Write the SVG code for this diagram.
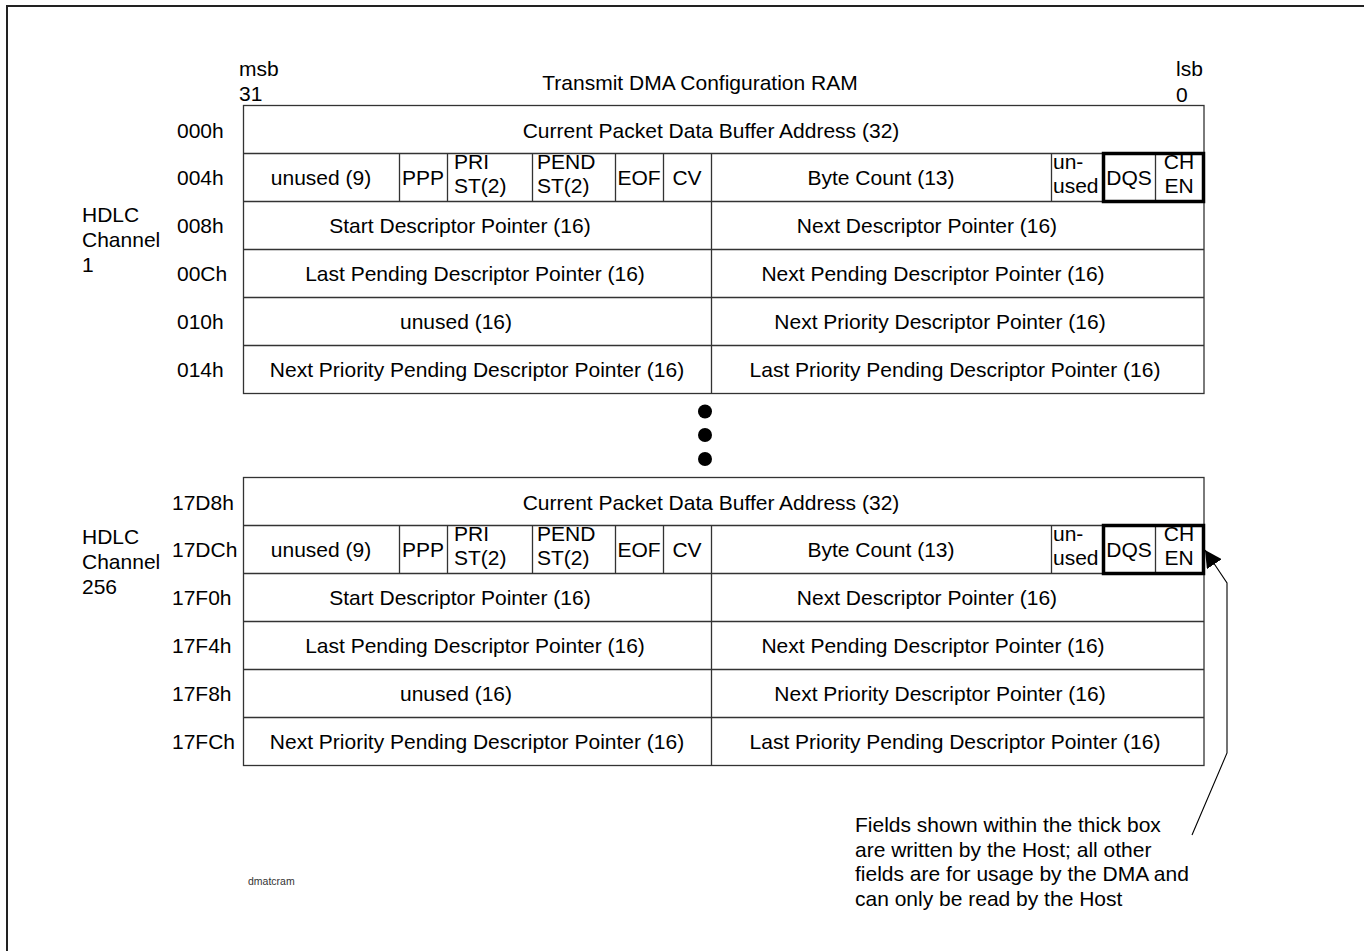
<svg xmlns="http://www.w3.org/2000/svg" width="1364" height="951" viewBox="0 0 1364 951">
<style>
text{font-family:"Liberation Sans",Arial,sans-serif;font-size:21px;fill:#000}
.c{text-anchor:middle}
.grid{fill:none;stroke:#333;stroke-width:1.3}
.thick{fill:none;stroke:#000;stroke-width:3.5}
.conn{fill:none;stroke:#000;stroke-width:1.1}
.small{font-size:10.5px;fill:#333}
</style>
<defs>
<marker id="ah" viewBox="0 0 17 18" refX="17" refY="9" markerWidth="17" markerHeight="18" markerUnits="userSpaceOnUse" orient="auto">
<path d="M0,0 L17,9 L0,18 z" fill="#000"/>
</marker>
</defs>
<rect width="1364" height="951" fill="#fff"/>
<path d="M7,951 V6 H1364" fill="none" stroke="#222" stroke-width="2"/>

<g id="header">
<text x="239" y="76">msb</text>
<text x="239" y="101">31</text>
<text x="700" y="90" class="c">Transmit DMA Configuration RAM</text>
<text x="1176" y="76">lsb</text>
<text x="1176" y="102">0</text>
</g>

<g id="channel1-label">
<text x="82" y="222">HDLC</text>
<text x="82" y="247">Channel</text>
<text x="82" y="272">1</text>
</g>

<g id="table1">
<rect class="grid" x="243.5" y="105.5" width="960.5" height="288"/>
<path class="grid" d="M243.5,153.5H1204 M243.5,201.5H1204 M243.5,249.5H1204 M243.5,297.5H1204 M243.5,345.5H1204 M711.5,153.5V393.5 M399.5,153.5V201.5 M447.5,153.5V201.5 M532.5,153.5V201.5 M615.5,153.5V201.5 M663.5,153.5V201.5 M1051.5,153.5V201.5 M1155.5,153.5V201.5"/>
<rect class="thick" x="1103.5" y="153.5" width="100" height="48"/>
<g id="t1-r0"><text x="177" y="138">000h</text><text x="711" y="138" class="c">Current Packet Data Buffer Address (32)</text></g>
<g id="t1-r1"><text x="177" y="185">004h</text>
<text x="321" y="185" class="c">unused (9)</text>
<text x="423" y="185" class="c">PPP</text>
<text x="454" y="169">PRI</text><text x="454" y="193">ST(2)</text>
<text x="537" y="169">PEND</text><text x="537" y="193">ST(2)</text>
<text x="639" y="185" class="c">EOF</text>
<text x="687" y="185" class="c">CV</text>
<text x="881" y="185" class="c">Byte Count (13)</text>
<text x="1053" y="169">un-</text><text x="1053" y="193">used</text>
<text x="1129" y="185" class="c">DQS</text>
<text x="1179" y="169" class="c">CH</text><text x="1179" y="193" class="c">EN</text></g>
<g id="t1-r2"><text x="177" y="233">008h</text><text x="460" y="233" class="c">Start Descriptor Pointer (16)</text><text x="927" y="233" class="c">Next Descriptor Pointer (16)</text></g>
<g id="t1-r3"><text x="177" y="281">00Ch</text><text x="475" y="281" class="c">Last Pending Descriptor Pointer (16)</text><text x="933" y="281" class="c">Next Pending Descriptor Pointer (16)</text></g>
<g id="t1-r4"><text x="177" y="329">010h</text><text x="456" y="329" class="c">unused (16)</text><text x="940" y="329" class="c">Next Priority Descriptor Pointer (16)</text></g>
<g id="t1-r5"><text x="177" y="377">014h</text><text x="477" y="377" class="c">Next Priority Pending Descriptor Pointer (16)</text><text x="955" y="377" class="c">Last Priority Pending Descriptor Pointer (16)</text></g>
</g>

<g id="ellipsis">
<circle cx="705" cy="411.5" r="7"/>
<circle cx="705" cy="435" r="7"/>
<circle cx="705" cy="459" r="7"/>
</g>

<g id="channel256-label">
<text x="82" y="544">HDLC</text>
<text x="82" y="569">Channel</text>
<text x="82" y="594">256</text>
</g>

<g id="table2">
<rect class="grid" x="243.5" y="477.5" width="960.5" height="288"/>
<path class="grid" d="M243.5,525.5H1204 M243.5,573.5H1204 M243.5,621.5H1204 M243.5,669.5H1204 M243.5,717.5H1204 M711.5,525.5V765.5 M399.5,525.5V573.5 M447.5,525.5V573.5 M532.5,525.5V573.5 M615.5,525.5V573.5 M663.5,525.5V573.5 M1051.5,525.5V573.5 M1155.5,525.5V573.5"/>
<rect class="thick" x="1103.5" y="525.5" width="100" height="48"/>
<g id="t2-r0"><text x="172" y="510">17D8h</text><text x="711" y="510" class="c">Current Packet Data Buffer Address (32)</text></g>
<g id="t2-r1"><text x="172" y="557">17DCh</text>
<text x="321" y="557" class="c">unused (9)</text>
<text x="423" y="557" class="c">PPP</text>
<text x="454" y="541">PRI</text><text x="454" y="565">ST(2)</text>
<text x="537" y="541">PEND</text><text x="537" y="565">ST(2)</text>
<text x="639" y="557" class="c">EOF</text>
<text x="687" y="557" class="c">CV</text>
<text x="881" y="557" class="c">Byte Count (13)</text>
<text x="1053" y="541">un-</text><text x="1053" y="565">used</text>
<text x="1129" y="557" class="c">DQS</text>
<text x="1179" y="541" class="c">CH</text><text x="1179" y="565" class="c">EN</text></g>
<g id="t2-r2"><text x="172" y="605">17F0h</text><text x="460" y="605" class="c">Start Descriptor Pointer (16)</text><text x="927" y="605" class="c">Next Descriptor Pointer (16)</text></g>
<g id="t2-r3"><text x="172" y="653">17F4h</text><text x="475" y="653" class="c">Last Pending Descriptor Pointer (16)</text><text x="933" y="653" class="c">Next Pending Descriptor Pointer (16)</text></g>
<g id="t2-r4"><text x="172" y="701">17F8h</text><text x="456" y="701" class="c">unused (16)</text><text x="940" y="701" class="c">Next Priority Descriptor Pointer (16)</text></g>
<g id="t2-r5"><text x="172" y="749">17FCh</text><text x="477" y="749" class="c">Next Priority Pending Descriptor Pointer (16)</text><text x="955" y="749" class="c">Last Priority Pending Descriptor Pointer (16)</text></g>
</g>

<g id="connectors">
<path class="conn" d="M1192,835 L1227,753 L1227,583 L1205,550" marker-end="url(#ah)"/>
</g>

<g id="note">
<text x="855" y="832">Fields shown within the thick box</text>
<text x="855" y="857">are written by the Host; all other</text>
<text x="855" y="881">fields are for usage by the DMA and</text>
<text x="855" y="906">can only be read by the Host</text>
</g>

<g id="tag"><text x="248" y="885" class="small">dmatcram</text></g>
</svg>
